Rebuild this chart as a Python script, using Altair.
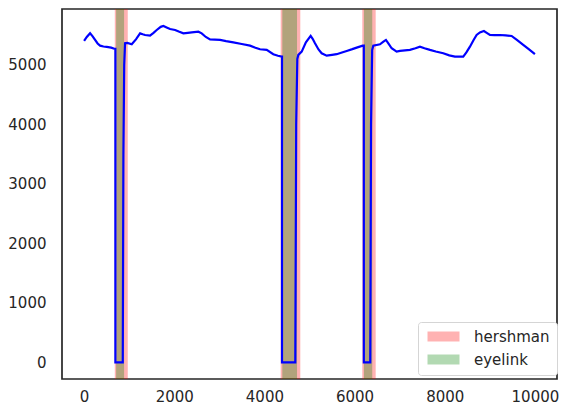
import altair as alt
import pandas as pd

# Pupil trace (time in ms, pupil size)
t_ms = [0, 60, 133, 190, 244, 300, 355, 430, 503, 600, 687, 694, 694, 858, 872, 890, 909, 960,
        1057, 1150, 1242, 1300, 1353, 1463, 1540, 1611, 1700, 1759, 1830, 1907, 2018, 2100, 2202,
        2300, 2388, 2535, 2609, 2700, 2794, 2900, 3016, 3150, 3310, 3497, 3681, 3800, 3902, 4051,
        4197, 4300, 4384, 4390, 4390, 4685, 4705, 4730, 4752, 4827, 4920, 5026, 5070, 5122, 5200,
        5270, 5381, 5500, 5603, 5720, 5825, 5950, 6047, 6180, 6205, 6205, 6348, 6365, 6390, 6415,
        6563, 6640, 6696, 6760, 6822, 6933, 7007, 7228, 7350, 7450, 7550, 7672, 7800, 7967, 8100,
        8226, 8410, 8480, 8559, 8640, 8707, 8780, 8869, 8940, 9002, 9100, 9224, 9350, 9483, 9600,
        9741, 9870, 10000]
pupil = [5403, 5470, 5532, 5480, 5420, 5360, 5324, 5310, 5302, 5290, 5268, 5268, 0, 0, 3500, 5000,
         5364, 5370, 5347, 5430, 5530, 5515, 5503, 5492, 5540, 5587, 5640, 5654, 5630, 5604, 5587,
         5560, 5530, 5540, 5546, 5558, 5530, 5470, 5430, 5425, 5420, 5400, 5380, 5352, 5324, 5290,
         5263, 5252, 5180, 5155, 5140, 5140, 0, 0, 4000, 5100, 5168, 5223, 5380, 5487, 5440, 5364,
         5260, 5196, 5156, 5170, 5180, 5210, 5235, 5265, 5291, 5324, 5324, 0, 0, 4000, 5250, 5324,
         5347, 5390, 5420, 5350, 5280, 5223, 5235, 5252, 5280, 5307, 5280, 5252, 5225, 5196, 5160,
         5140, 5140, 5210, 5307, 5420, 5503, 5545, 5570, 5535, 5503, 5500, 5503, 5495, 5487, 5420,
         5336, 5260, 5180]

# Blink detections
span_source = ["hershman", "hershman", "hershman", "eyelink", "eyelink", "eyelink"]
span_start = [681, 4361, 6171, 710, 4397, 6208]
span_end = [969, 4796, 6468, 887, 4723, 6392]

x_ticks = [0, 2000, 4000, 6000, 8000, 10000]
y_ticks = [0, 1000, 2000, 3000, 4000, 5000]

line_df = pd.DataFrame({"t": t_ms, "pupil": pupil, "idx": list(range(len(t_ms)))})
span_df = pd.DataFrame({"source": span_source, "start": span_start, "end": span_end})

FONT = "DejaVu Sans"
TXT = "#262626"

xscale = alt.Scale(domain=[-490, 10490], nice=False, zero=False)
yscale = alt.Scale(domain=[-280, 5940], nice=False, zero=False)

xaxis = alt.Axis(values=x_ticks, format="d", title=None, grid=False, ticks=False, domain=False,
                 labelFont=FONT, labelFontSize=15, labelColor=TXT, labelPadding=10)
yaxis = alt.Axis(values=y_ticks, format="d", title=None, grid=False, ticks=False, domain=False,
                 labelFont=FONT, labelFontSize=15, labelColor=TXT, labelPadding=16)

# wide patch: symbol size 100 -> unit scale 5px; path spans 0..32px wide, 10px tall
legend_path = "M-1,-1H5.4V1H-1Z"

rects = alt.Chart(span_df).mark_rect(opacity=0.3).encode(
    x=alt.X("start:Q", scale=xscale, axis=xaxis),
    x2="end:Q",
    color=alt.Color(
        "source:N",
        scale=alt.Scale(domain=["hershman", "eyelink"], range=["#ff0000", "#008000"]),
        legend=alt.Legend(
            title=None, orient="none", legendX=356, legendY=313,
            symbolType=legend_path, symbolSize=100, symbolOpacity=0.3,
            symbolStrokeWidth=0,
            labelFont=FONT, labelFontSize=15, labelColor=TXT, labelOffset=34,
            rowPadding=7, padding=7, fillColor="white", strokeColor="#d5d5d5",
            cornerRadius=3,
        ),
    ),
    order=alt.Order("source:N", sort="descending"),
)

line = alt.Chart(line_df).mark_line(color="#0000ff", strokeWidth=2.2).encode(
    x=alt.X("t:Q", scale=xscale, axis=xaxis),
    y=alt.Y("pupil:Q", scale=yscale, axis=yaxis),
    order="idx:Q",
)

chart = alt.layer(rects, line).properties(
    width=495, height=370,
    autosize=alt.AutoSizeParams(type="none"),
    padding={"left": 54, "top": 1, "right": 4, "bottom": 30},
    background="white",
).configure_view(stroke="#262626", strokeWidth=1.7)

chart.save("out.html", embed_options={"renderer": "svg", "actions": False})
